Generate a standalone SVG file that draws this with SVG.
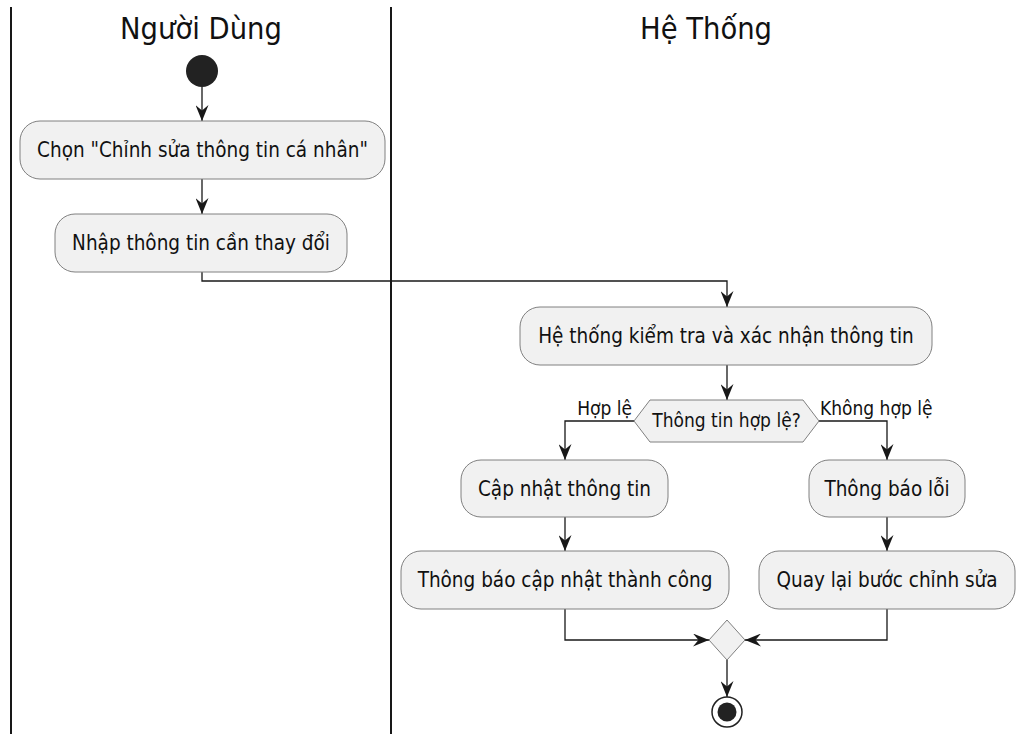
<svg xmlns="http://www.w3.org/2000/svg" width="1017" height="734" viewBox="0 0 1017 734">
  <style>
    .lane { stroke: #181818; stroke-width: 2; fill: none; }
    .title { font-family: "DejaVu Sans", "Liberation Sans", sans-serif; font-stretch: condensed; font-size: 30.5px; fill: #111; text-anchor: middle; }
    .act { fill: #F1F1F1; stroke: #808080; stroke-width: 1; }
    .lbl { font-family: "DejaVu Sans", "Liberation Sans", sans-serif; font-stretch: condensed; font-size: 20.5px; fill: #111; text-anchor: middle; }
    .small { font-family: "DejaVu Sans", "Liberation Sans", sans-serif; font-stretch: condensed; font-size: 19px; fill: #111; }
    .edge { stroke: #181818; stroke-width: 1.3; fill: none; marker-end: url(#arr); }
  </style>
  <defs>
    <marker id="arr" markerUnits="userSpaceOnUse" markerWidth="16" markerHeight="13" viewBox="0 0 16 13" refX="16" refY="6.5" orient="auto">
      <path d="M0,0 L16,6.5 L0,13 L5.5,6.5 Z" fill="#181818"/>
    </marker>
  </defs>
  <rect width="1017" height="734" fill="#fff"/>

  <!-- swimlanes -->
  <g id="lanes">
    <line class="lane" x1="11" y1="7" x2="11" y2="734"/>
    <line class="lane" x1="391" y1="7" x2="391" y2="734"/>
    <text class="title" x="201" y="39">Người Dùng</text>
    <text class="title" x="706" y="39">Hệ Thống</text>
  </g>

  <!-- connectors -->
  <g id="connectors">
    <line class="edge" x1="202" y1="87" x2="202" y2="121"/>
    <line class="edge" x1="202" y1="179" x2="202" y2="214"/>
    <polyline class="edge" points="202,272 202,281 727,281 727,307"/>
    <line class="edge" x1="727" y1="365" x2="727" y2="400"/>
    <polyline class="edge" points="634,421 565,421 565,460"/>
    <polyline class="edge" points="819,421 887,421 887,460"/>
    <line class="edge" x1="565" y1="517" x2="565" y2="551"/>
    <line class="edge" x1="887" y1="517" x2="887" y2="551"/>
    <polyline class="edge" points="565,609 565,640 709,640"/>
    <polyline class="edge" points="887,609 887,640 745,640"/>
    <line class="edge" x1="727" y1="660" x2="727" y2="697"/>
    <text class="small" x="632" y="415" text-anchor="end">Hợp lệ</text>
    <text class="small" x="820" y="415">Không hợp lệ</text>
  </g>

  <g id="start">
    <circle cx="202" cy="71" r="16" fill="#222"/>
  </g>

  <g id="chon">
    <rect class="act" x="20" y="121" width="365" height="58" rx="20"/>
    <text class="lbl" x="202.5" y="157">Chọn "Chỉnh sửa thông tin cá nhân"</text>
  </g>

  <g id="nhap">
    <rect class="act" x="55" y="214" width="292" height="58" rx="20"/>
    <text class="lbl" x="201" y="250">Nhập thông tin cần thay đổi</text>
  </g>

  <g id="kiemtra">
    <rect class="act" x="520" y="307" width="412" height="58" rx="20"/>
    <text class="lbl" x="726" y="343">Hệ thống kiểm tra và xác nhận thông tin</text>
  </g>

  <g id="hople">
    <polygon class="act" points="634,421 650,400 803,400 819,421 803,442 650,442"/>
    <text class="small" x="726.5" y="427" text-anchor="middle">Thông tin hợp lệ?</text>
  </g>

  <g id="capnhat">
    <rect class="act" x="461" y="460" width="207" height="57" rx="20"/>
    <text class="lbl" x="564.5" y="496">Cập nhật thông tin</text>
  </g>

  <g id="baoloi">
    <rect class="act" x="809" y="460" width="156" height="57" rx="20"/>
    <text class="lbl" x="887" y="496">Thông báo lỗi</text>
  </g>

  <g id="thanhcong">
    <rect class="act" x="401" y="551" width="328" height="58" rx="20"/>
    <text class="lbl" x="565" y="587">Thông báo cập nhật thành công</text>
  </g>

  <g id="quaylai">
    <rect class="act" x="759" y="551" width="256" height="58" rx="20"/>
    <text class="lbl" x="887" y="587">Quay lại bước chỉnh sửa</text>
  </g>

  <g id="merge">
    <polygon class="act" points="727,620 745,640 727,660 709,640"/>
  </g>

  <g id="end">
    <circle cx="727" cy="712" r="15" fill="#fff" stroke="#222" stroke-width="1.5"/>
    <circle cx="727" cy="712" r="9.5" fill="#222"/>
  </g>
</svg>
